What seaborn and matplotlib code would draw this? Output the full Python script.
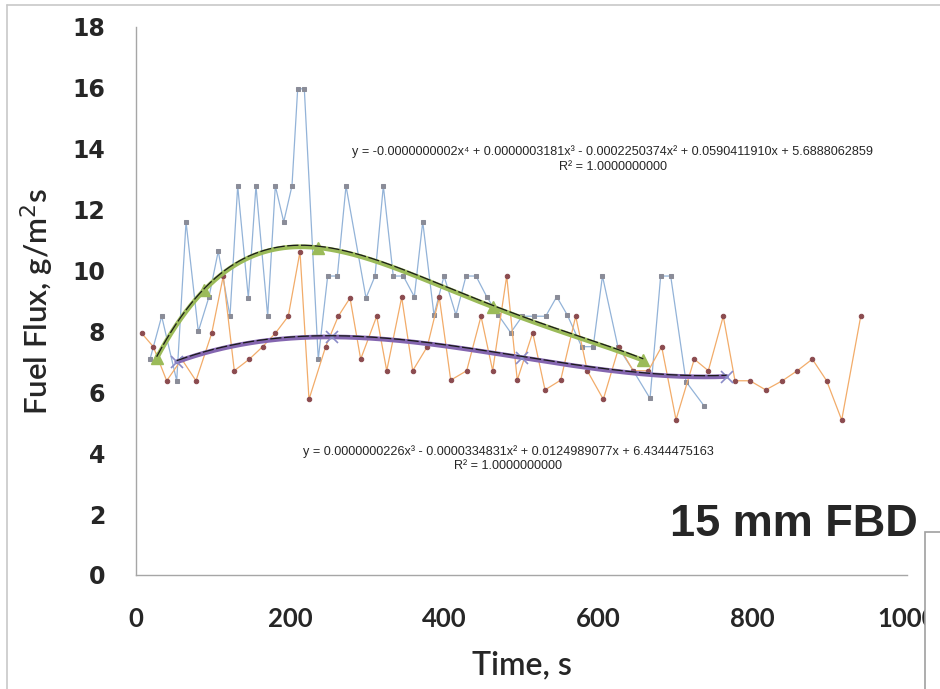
import numpy as np
import matplotlib
matplotlib.use("Agg")
import matplotlib.pyplot as plt
from matplotlib.patches import Rectangle
from matplotlib.lines import Line2D
import seaborn as sns

# Measured fuel flux, 15 mm fuel bed depth
blue_t = [18.2, 33.3, 52.8, 64.9, 80.8, 94.7, 106.7, 121.9, 131.9, 145.7,
          155.6, 170.8, 180.7, 191.6, 202.3, 209.7, 218.3, 236.4, 248.6, 261.1,
          272.4, 298.3, 310.0, 320.8, 333.7, 346.7, 361.0, 371.9, 386.5, 399.5,
          415.0, 428.0, 441.0, 454.9, 469.9, 486.0, 501.0, 516.2, 531.4, 545.7,
          559.4, 578.0, 593.0, 605.0, 625.0, 645.0, 666.7, 680.5, 693.5, 713.4,
          737.0]
blue_flux = [7.09, 8.50, 6.38, 11.60, 8.00, 9.14, 10.64, 8.50, 12.78, 9.10,
             12.78, 8.50, 12.78, 11.60, 12.78, 15.97, 15.97, 7.09, 9.82, 9.82,
             12.78, 9.10, 9.82, 12.78, 9.82, 9.82, 9.14, 11.60, 8.54, 9.82,
             8.54, 9.82, 9.82, 9.14, 8.54, 7.96, 8.50, 8.50, 8.50, 9.14,
             8.54, 7.50, 7.50, 9.82, 7.50, 6.71, 5.80, 9.82, 9.82, 6.35,
             5.55]

orange_t = [7.4, 22.4, 39.8, 59.3, 77.8, 98.2, 113.2, 127.5, 147.0, 164.3,
            180.7, 197.5, 212.7, 224.4, 246.0, 262.4, 277.6, 291.4, 312.2, 325.2,
            344.6, 358.9, 377.8, 393.4, 408.2, 428.9, 447.5, 462.6, 480.8, 494.5,
            514.5, 530.5, 550.8, 570.3, 585.3, 606.1, 626.5, 645.0, 664.5, 681.8,
            700.4, 724.1, 742.3, 761.7, 776.9, 796.4, 816.7, 838.3, 857.7, 877.2,
            895.8, 915.3, 940.0]
orange_flux = [7.94, 7.50, 6.38, 7.09, 6.38, 7.94, 9.82, 6.71, 7.09, 7.50,
               7.94, 8.50, 10.62, 5.77, 7.50, 8.50, 9.10, 7.09, 8.50, 6.71,
               9.12, 6.71, 7.50, 9.12, 6.40, 6.71, 8.50, 6.71, 9.82, 6.40,
               7.96, 6.08, 6.40, 8.50, 6.71, 5.77, 7.50, 6.71, 6.71, 7.50,
               5.10, 7.09, 6.71, 8.50, 6.38, 6.38, 6.08, 6.38, 6.71, 7.09,
               6.38, 5.09, 8.50]

# Smoothed profiles used for the polynomial trendlines
green_t = [26.8, 88.2, 236.4, 463.4, 658.0]
green_flux = [7.12, 9.35, 10.75, 8.80, 7.05]
purple_t = [52.8, 253.8, 500.0, 766.0]
purple_flux = [7.00, 7.82, 7.14, 6.52]

x_ticks = [0, 200, 400, 600, 800, 1000]
y_ticks = [0, 2, 4, 6, 8, 10, 12, 14, 16, 18]

quartic_label = ("y = -0.0000000002x\u2074 + 0.0000003181x\u00b3 - 0.0002250374x\u00b2 "
                 "+ 0.0590411910x + 5.6888062859")
cubic_label = "y = 0.0000000226x\u00b3 - 0.0000334831x\u00b2 + 0.0124989077x + 6.4344475163"
r2_label = "R\u00b2 = 1.0000000000"

sns.set_style("white")
plt.rcParams["font.family"] = ["Lato", "DejaVu Sans"]
LATO = ["Lato", "DejaVu Sans"]
SMALL = ["Liberation Sans", "DejaVu Sans"]

W, H = 940, 689
fig = plt.figure(figsize=(W / 100, H / 100), dpi=100)
fig.patch.set_facecolor("white")
ax = fig.add_axes([136 / W, 1 - 575 / H, (907 - 136) / W, (575 - 27) / H])

# raw series
sns.lineplot(x=blue_t, y=blue_flux, sort=False, estimator=None, ax=ax,
             color="#93b3d8", lw=0.9, marker="s", markersize=3.2,
             markerfacecolor="#8a8c98", markeredgecolor="#8a8c98", zorder=2)
sns.lineplot(x=orange_t, y=orange_flux, sort=False, estimator=None, ax=ax,
             color="#f2ac6a", lw=0.9, marker="o", markersize=3.2,
             markerfacecolor="#8b4b4f", markeredgecolor="#8b4b4f", zorder=3)

# smoothed profiles and their polynomial trendlines
g_coef = np.polyfit(green_t, green_flux, 4)
gx = np.linspace(green_t[0], green_t[-1], 300)
sns.lineplot(x=gx, y=np.polyval(g_coef, gx), ax=ax, color="#9bbb59", lw=3.4, zorder=4)
ax.plot(green_t, green_flux, ls="none", marker="^", markersize=8,
        color="#9bbb59", zorder=5)

p_coef = np.polyfit(purple_t, purple_flux, 3)
px = np.linspace(purple_t[0], purple_t[-1], 300)
sns.lineplot(x=px, y=np.polyval(p_coef, px), ax=ax, color="#8466b0", lw=3.4, zorder=4)
ax.plot(purple_t, purple_flux, ls="none", marker="x", markersize=8, mew=1.2,
        color="#8a8cc8", zorder=5)

dash = (0, (9, 2))
ax.plot(gx, np.polyval(g_coef, gx) + 0.05, color="#1a1a1a", lw=0.9, ls=dash, zorder=6)
ax.plot(px, np.polyval(p_coef, px) + 0.04, color="#1a1a1a", lw=0.9, ls=dash, zorder=6)

ax.set_xlim(0, 1000)
ax.set_ylim(0, 18)
ax.set_xticks(x_ticks)
ax.set_yticks(y_ticks)
ax.set_xticklabels([str(v) for v in x_ticks], family=LATO, fontsize=18.5,
                   fontweight="bold")
ax.set_yticklabels([str(v) for v in y_ticks], family=["DejaVu Sans"], fontsize=17,
                   fontweight="bold")
ax.tick_params(axis="x", length=8, width=1, color="#a6a6a6", pad=15)
ax.tick_params(axis="y", length=8, width=1, color="#a6a6a6", pad=14)
for side in ("top", "right"):
    ax.spines[side].set_visible(False)
for side in ("left", "bottom"):
    ax.spines[side].set_color("#a6a6a6")
    ax.spines[side].set_linewidth(1)
ax.grid(False)

ax.set_xlabel("Time, s", family=LATO, fontsize=23, fontweight="semibold", labelpad=14)
ax.set_ylabel("Fuel Flux, g/m$^2$s", family=LATO, fontsize=22.5, fontweight="semibold",
              labelpad=12)

# trendline equations
fig.text(613 / W, 1 - 152 / H, quartic_label, family=SMALL, fontsize=9.1,
         ha="center", va="center")
fig.text(613 / W, 1 - 167 / H, r2_label, family=SMALL, fontsize=9.1,
         ha="center", va="center")
fig.text(508 / W, 1 - 452 / H, cubic_label, family=SMALL, fontsize=9.1,
         ha="center", va="center")
fig.text(508 / W, 1 - 466 / H, r2_label, family=SMALL, fontsize=9.1,
         ha="center", va="center")

# chart frame and label box
fig.add_artist(Line2D([7 / W, 7 / W], [0, 1 - 5 / H], color="#c8c8c8", lw=1.2))
fig.add_artist(Line2D([7 / W, 1], [1 - 5 / H, 1 - 5 / H], color="#c8c8c8", lw=1.2))
fig.add_artist(Rectangle((925 / W, -0.05), 0.2, 0.05 + (1 - 532 / H),
                         transform=fig.transFigure, facecolor="white",
                         edgecolor="#a0a0a0", lw=1.2, zorder=10))
fig.text(918 / W, 1 - 525 / H, "15 mm FBD", family=["Liberation Sans", "DejaVu Sans"],
         fontsize=32.5, fontweight="bold", ha="right", va="center", zorder=11)

fig.savefig("out.png", dpi=100, facecolor="white")
